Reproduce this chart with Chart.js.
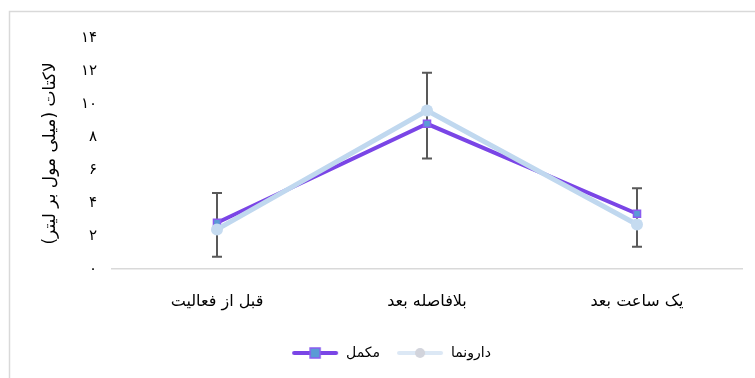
<!DOCTYPE html>
<html>
<head>
<meta charset="utf-8">
<script src="https://cdn.jsdelivr.net/npm/chart.js@4"></script>
<style>
    html, body { margin: 0; padding: 0; background: #fff; }
    #wrap { width: 755px; height: 378px; position: relative; }
</style>
</head>
<body>
<div id="wrap"><canvas id="lactateChart" width="755" height="378"></canvas></div>
<script>
// Values
const categories = ['قبل از فعالیت', 'بلافاصله بعد', 'یک ساعت بعد'];
const supplementValues = [2.8, 8.8, 3.35];   // مکمل
const placeboValues = [2.4, 9.6, 2.7];       // دارونما
const errorHigh = [4.6, 11.9, 4.9];
const errorLow = [0.75, 6.7, 1.35];
const yTickLabels = ['۰', '۲', '۴', '۶', '۸', '۱۰', '۱۲', '۱۴'];
const seriesNames = ['مکمل', 'دارونما'];

const fontFamily = "'DejaVu Sans', sans-serif";

// Small canvas used as a legend marker: line with the point in the middle
function legendMarker(lineColor, lineWidth, shape, fill, stroke) {
    var c = document.createElement('canvas');
    c.width = 48;
    c.height = 14;
    var ctx = c.getContext('2d');
    ctx.strokeStyle = lineColor;
    ctx.lineWidth = lineWidth;
    ctx.lineCap = 'round';
    ctx.beginPath();
    ctx.moveTo(3, 7);
    ctx.lineTo(45, 7);
    ctx.stroke();
    ctx.fillStyle = fill;
    ctx.strokeStyle = stroke;
    ctx.lineWidth = 1.5;
    if (shape === 'rect') {
        ctx.fillRect(19, 2, 10, 10);
        ctx.strokeRect(19, 2, 10, 10);
    } else {
        ctx.beginPath();
        ctx.arc(24, 7, 5, 0, Math.PI * 2);
        ctx.fill();
    }
    return c;
}

const markers = [
    legendMarker('#7a45e6', 4, 'rect', '#5b9bd5', '#8a5cf0'),
    legendMarker('#dce8f5', 4, 'circle', '#d2d4dc', '#d2d4dc')
];

// Outer frame (only top and left edges are in the picture)
const framePlugin = {
    id: 'frame',
    beforeDraw(chart) {
        const ctx = chart.ctx;
        ctx.save();
        ctx.strokeStyle = '#d9d9d9';
        ctx.lineWidth = 1.5;
        ctx.beginPath();
        ctx.moveTo(9.5, chart.height);
        ctx.lineTo(9.5, 11.5);
        ctx.lineTo(chart.width, 11.5);
        ctx.stroke();
        ctx.restore();
    }
};

// Error bars drawn behind the lines
const errorBarPlugin = {
    id: 'errorBars',
    beforeDatasetsDraw(chart) {
        const ctx = chart.ctx;
        const x = chart.scales.x;
        const y = chart.scales.y;
        ctx.save();
        ctx.strokeStyle = '#595959';
        ctx.lineWidth = 2;
        for (let i = 0; i < categories.length; i++) {
            const px = x.getPixelForValue(i);
            const top = y.getPixelForValue(errorHigh[i]);
            const bottom = y.getPixelForValue(errorLow[i]);
            ctx.beginPath();
            ctx.moveTo(px, top);
            ctx.lineTo(px, bottom);
            ctx.moveTo(px - 5, top);
            ctx.lineTo(px + 5, top);
            ctx.moveTo(px - 5, bottom);
            ctx.lineTo(px + 5, bottom);
            ctx.stroke();
        }
        ctx.restore();
    }
};

const ctx = document.getElementById('lactateChart').getContext('2d');
new Chart(ctx, {
    type: 'line',
    data: {
        labels: categories,
        datasets: [
            {
                label: seriesNames[0],
                data: supplementValues,
                borderColor: '#7a45e6',
                borderWidth: 4,
                pointStyle: 'rect',
                pointRadius: 5,
                pointBackgroundColor: '#5b9bd5',
                pointBorderColor: '#8a5cf0',
                pointBorderWidth: 1.5,
                tension: 0,
                order: 2
            },
            {
                label: seriesNames[1],
                data: placeboValues,
                borderColor: '#c0d8ef',
                borderWidth: 5,
                pointStyle: 'circle',
                pointRadius: 6,
                pointBackgroundColor: '#c5dbf0',
                pointBorderColor: '#c5dbf0',
                pointBorderWidth: 0,
                tension: 0,
                order: 1
            }
        ]
    },
    options: {
        responsive: false,
        animation: false,
        devicePixelRatio: 1,
        layout: {
            padding: { top: 38, right: 13, bottom: 8, left: 40 }
        },
        scales: {
            x: {
                offset: true,
                grid: { display: false, drawTicks: false },
                border: { display: true, color: '#d9d9d9', width: 1.5 },
                ticks: {
                    padding: 23,
                    color: '#000',
                    maxRotation: 0,
                    font: { family: fontFamily, size: 16 }
                },
                afterFit(scale) { scale.height = 61; }
            },
            y: {
                min: 0,
                max: 14,
                grid: { display: false, drawTicks: false },
                border: { display: false },
                ticks: {
                    stepSize: 2,
                    padding: 15,
                    color: '#000',
                    font: { family: fontFamily, size: 15 },
                    callback: function (value) {
                        return yTickLabels[Math.round(value / 2)];
                    }
                },
                title: {
                    display: true,
                    text: 'لاکتات (میلی مول بر لیتر)',
                    color: '#000',
                    font: { family: fontFamily, size: 17 },
                    padding: { top: 0, bottom: 0 }
                },
                afterFit(scale) { scale.width = 72; }
            }
        },
        plugins: {
            legend: {
                position: 'bottom',
                labels: {
                    usePointStyle: true,
                    pointStyleWidth: 48,
                    boxHeight: 14,
                    padding: 16,
                    color: '#000',
                    font: { family: fontFamily, size: 14 },
                    generateLabels: function (chart) {
                        return chart.data.datasets.map(function (ds, i) {
                            return {
                                text: ds.label,
                                pointStyle: markers[i],
                                fillStyle: ds.borderColor,
                                strokeStyle: ds.borderColor,
                                lineWidth: 0,
                                hidden: false,
                                datasetIndex: i
                            };
                        });
                    }
                }
            },
            tooltip: { enabled: false }
        }
    },
    plugins: [framePlugin, errorBarPlugin]
});
</script>
</body>
</html>
